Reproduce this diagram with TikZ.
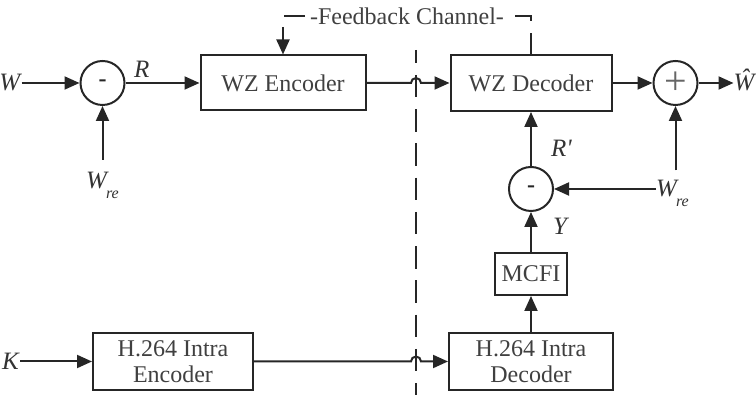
\documentclass[tikz,border=0pt]{standalone}
\usepackage{fontspec}
\setmainfont{Liberation Serif}
\usetikzlibrary{positioning, calc, arrows.meta}

% side information label and decoded frame label
\newcommand{\wre}{W\kern-1pt\smash{\raisebox{-10pt}{\fontsize{16}{16}\selectfont re}}}
\newcommand{\what}{\smash{\^W}\vphantom{W}}

\begin{document}
\begin{tikzpicture}[
    x=1pt, y=1pt,
    box/.style={rectangle, draw=black!85, line width=2pt, text=black!75, font=\fontsize{24}{26}\selectfont, align=center, inner sep=0pt},
    circ/.style={circle, draw=black!85, line width=2pt, minimum size=44pt, inner sep=0pt, text=black!85},
    lab/.style={inner sep=1pt, text=black!80, font=\fontsize{25}{27}\selectfont\itshape},
    arrow/.style={->, >={Triangle[length=15pt, width=13pt]}, line width=2pt, draw=black!85}
]
\useasboundingbox (0,0) rectangle (756,395);

% Encoder side
\node[box, minimum width=165pt, minimum height=55pt] (enc) at (283,312) {WZ Encoder};
\node[circ, left=74pt of enc] (sub1) {\fontsize{24}{24}\selectfont\textbf{-}};
\node[lab, left=58pt of sub1] (win) {W};
\node[lab, inner sep=0pt, below=66pt of sub1] (wre1) {\wre};

% Decoder side
\node[box, minimum width=161pt, minimum height=56pt, right=83pt of enc] (dec) {WZ Decoder};
\node[circ, right=40pt of dec] (add) {\color{black!60}\fontsize{40}{40}\selectfont +};
\node[lab, inner sep=0pt, right=35pt of add] (what) {\what};
\node[circ, below=54pt of dec] (sub2) {\fontsize{24}{24}\selectfont\textbf{-}};
\node[lab, inner sep=0pt, right=102pt of sub2] (wre2) {\wre};
\node[box, minimum width=72pt, minimum height=42pt, below=40pt of sub2] (mcfi) {MCFI};

% Key frames
\node[box, minimum width=164pt, minimum height=57pt, below=36pt of mcfi] (hdec) {H.264 Intra\\Decoder};
\node[box, minimum width=160pt, minimum height=57pt, left=194pt of hdec] (henc) {H.264 Intra\\Encoder};
\node[lab, left=72pt of henc] (kin) {K};

% Channel divider
\coordinate (divtop) at (416,345);
\coordinate (divbot) at (416,0);
\draw[line width=2pt, draw=black!85, dash pattern=on 22.5pt off 11.75pt, dash phase=9.25pt] (divtop) -- (divbot);

% Arrows
\draw[arrow] (win.east) -- (sub1.west);
\draw[arrow, shorten <=12pt] (wre1.north) -- (sub1.south);
\draw[arrow] (sub1.east) -- (enc.west) node[pos=0.22, above=3pt, lab] {R};
\draw[arrow] (enc.east) -- ($(enc.east -| divtop)+(-5,0)$) arc[start angle=180, end angle=0, radius=5pt] -- (dec.west);
\draw[arrow] (dec.east) -- (add.west);
\draw[arrow] (add.east) -- (what.west);
\draw[arrow, shorten <=10pt] (wre2.north -| add.south) -- (add.south);
\draw[arrow] (wre2.west) -- (sub2.east);
\draw[arrow] (sub2.north) -- (dec.south) node[pos=0.32, right=18pt, lab] {R\textquotesingle};
\draw[arrow] (mcfi.north) -- (sub2.south) node[pos=0.64, right=20pt, lab] {Y};
\draw[arrow] (hdec.north) -- (mcfi.south);
\draw[arrow] (kin.east) -- (henc.west);
\draw[arrow] (henc.east) -- ($(henc.east -| divtop)+(-5,0)$) arc[start angle=180, end angle=0, radius=5pt] -- (hdec.west);

% Feedback channel
\draw[arrow, dash pattern=on 21pt off 12pt] (dec.north) -- ++(0,38) coordinate (fbr)
    -- (fbr -| enc.north) node[midway, fill=white, inner sep=3pt, text=black!75, font=\fontsize{24}{26}\selectfont] {-Feedback Channel-}
    -- (enc.north);

\end{tikzpicture}
\end{document}
